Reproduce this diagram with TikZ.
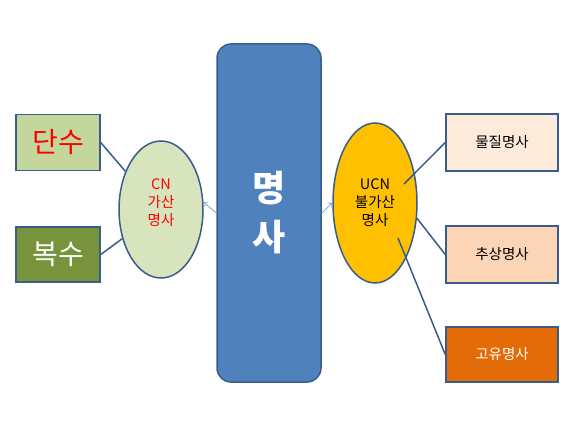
\documentclass[tikz,border=0pt]{standalone}
\usepackage{fontspec}
\setmainfont{Noto Sans CJK KR}
\usetikzlibrary{arrows.meta}
\definecolor{rand}{HTML}{385D8A}
\definecolor{hauptblau}{HTML}{4F81BD}
\definecolor{pfeilblau}{HTML}{7FA5D4}
\definecolor{hellgruen}{HTML}{C3D69B}
\definecolor{dunkelgruen}{HTML}{77933C}
\definecolor{blassgruen}{HTML}{D7E4BD}
\definecolor{gelb}{HTML}{FFC000}
\definecolor{hellorange}{HTML}{FDEADA}
\definecolor{mittelorange}{HTML}{FBD5B5}
\definecolor{dunkelorange}{HTML}{E36C09}
\tikzset{
kasten/.style={draw=rand,line width=1.5pt,minimum width=84pt,minimum height=56pt,inner sep=0pt},
oval/.style={ellipse,draw=rand,line width=1.5pt,minimum width=84pt,inner sep=0pt},
klein/.style={font=\fontsize{14.5}{18}\selectfont,align=center},
}
\usetikzlibrary{shapes.geometric}
\begin{document}
\begin{tikzpicture}[x=1pt,y=-1pt]
\def\linie#1#2{
\draw[rand,line width=1.5pt] #1 -- #2;
}
\def\pfeil#1#2{
\draw[pfeilblau,line width=0.8pt,-{Straight Barb[length=3pt,width=6pt]}] #1 -- #2;
}
\useasboundingbox (0,0) rectangle (580,436);
% Hauptkasten
\node[draw=rand,fill=hauptblau,line width=1.5pt,rounded corners=14pt,
minimum width=104pt,minimum height=338pt,text=white,
font=\fontsize{36}{49}\selectfont\bfseries,align=center] (nomen) at (269,213) {명\\사};
% links
\node[kasten,fill=hellgruen,text=red,font=\fontsize{28}{30}\selectfont] (einzahl) at (58,142.5) {단수};
\node[kasten,fill=dunkelgruen,text=white,minimum height=55pt,font=\fontsize{28}{30}\selectfont] (mehrzahl) at (58,254.5) {복수};
\node[oval,fill=blassgruen,minimum height=137pt] (cn) at (161,209.5) {};
\node[klein,text=red] (cntext) at (161,203) {CN\\가산\\명사};
% rechts
\node[oval,fill=gelb,minimum height=160pt,klein] (ucn) at (375,203) {UCN\\불가산\\명사};
\node[kasten,fill=hellorange,minimum width=112pt,minimum height=57pt,klein] (stoff) at (502,142.5) {물질명사};
\node[kasten,fill=mittelorange,minimum width=112pt,minimum height=57pt,klein] (abstrakt) at (502,254.5) {추상명사};
\node[kasten,fill=dunkelorange,minimum width=112pt,minimum height=55pt,klein,text=white] (eigen) at (502,354.5) {고유명사};
\coordinate (ucnA) at (404,184);
\coordinate (ucnC) at (398,238);
\linie{(einzahl.east)}{(cn.133)}
\linie{(mehrzahl.east)}{(cn.217)}
\linie{(stoff.west)}{(ucnA)}
\linie{(abstrakt.west)}{(ucn.-20)}
\linie{(eigen.west)}{(ucnC)}
\pfeil{(nomen.west)}{(cn.10)}
\pfeil{(nomen.east)}{(ucn.west)}
\end{tikzpicture}
\end{document}
